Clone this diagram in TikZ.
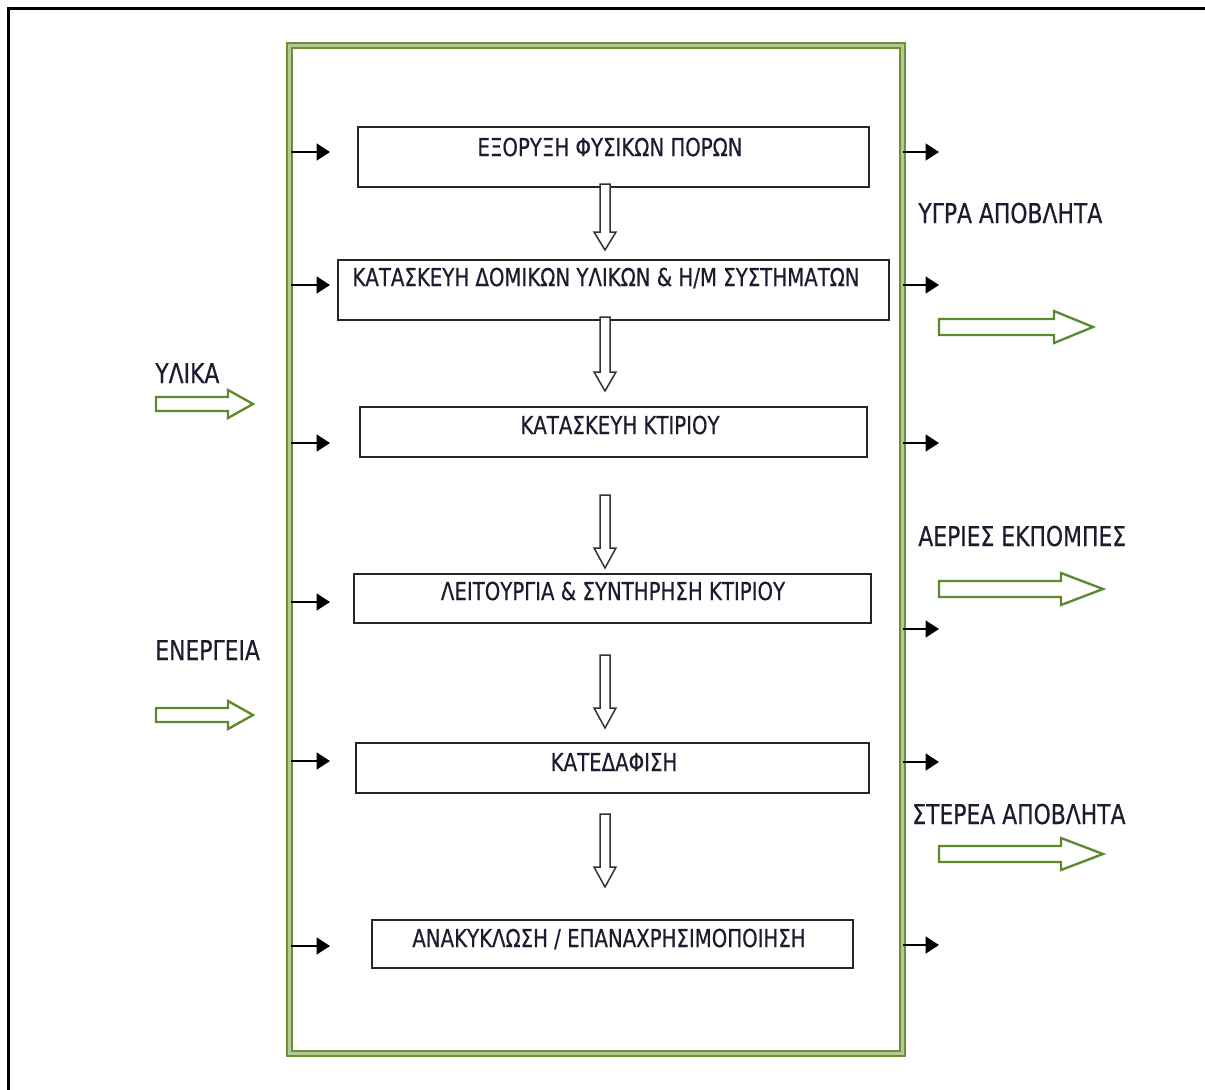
\documentclass[tikz,border=0pt]{standalone}
\usepackage{fontspec}
\setmainfont{DejaVu Sans}[FakeStretch=0.8,FakeBold=0.5]
\usetikzlibrary{arrows.meta,fit}
\definecolor{gdark}{HTML}{6F8E3D}
\definecolor{glight}{HTML}{B3C98F}
\definecolor{garrow}{HTML}{5B8A2C}
\definecolor{txt}{HTML}{1C1C30}
\newcommand\hdown[4]{%
  \draw[hollowblk] (#1-5,#2) -- (#1-5,#3) -- (#1-11,#3) -- (#1,#4) -- (#1+11,#3) -- (#1+5,#3) -- (#1+5,#2) -- cycle;}
\newcommand\hright[6]{% x0, xhead, xtip, cy, half shaft, half head
  \draw[hollowgrn] (#1,#4-#5) -- (#2,#4-#5) -- (#2,#4-#6) -- (#3,#4) -- (#2,#4+#6) -- (#2,#4+#5) -- (#1,#4+#5) -- cycle;}
\tikzset{
  procbox/.style={draw=black!85, line width=1.2pt, inner sep=0pt},
  boxtxt/.style={font=\fontsize{14.8}{17}\selectfont, text=txt, anchor=base, inner sep=0pt},
  labeltxt/.style={font=\fontsize{16.4}{19}\selectfont, text=txt, anchor=base west, inner sep=0pt},
  hollowblk/.style={draw=black!80, line width=0.9pt, fill=white},
  hollowgrn/.style={draw=garrow, line width=1.4pt, fill=white},
  smallarr/.style={line width=1.4pt, -{Triangle[length=8pt,width=10pt]}},
  greenframe/.style={draw=gdark, double=glight, double distance=2.2pt, line width=1.2pt, inner sep=0pt}
}
\begin{document}
\begin{tikzpicture}[x=0.6pt,y=-0.6pt]
\useasboundingbox (0,0) rectangle (1205,1089);
\fill[white] (0,0) rectangle (1205,1089);
% outer frame (cropped)
\draw[line width=1.8pt] (8,1100) -- (8,8) -- (1215,8);
% green frame
\node[greenframe, fit={(289.5,45.5) (902.5,1053.5)}] (frame) {};
% process boxes
\node[procbox, fit={(358,127) (869,187)}] (b1) {};
\node[procbox, fit={(338,260) (889,320)}] (b2) {};
\node[procbox, fit={(360,407) (867,457)}] (b3) {};
\node[procbox, fit={(354,574) (871,623)}] (b4) {};
\node[procbox, fit={(356,743) (869,793)}] (b5) {};
\node[procbox, fit={(372,920) (853,968)}] (b6) {};
\node[boxtxt] (t1) at (610,156) {ΕΞΟΡΥΞΗ ΦΥΣΙΚΩΝ ΠΟΡΩΝ};
\node[boxtxt] (t2) at (606,286) {ΚΑΤΑΣΚΕΥΗ ΔΟΜΙΚΩΝ ΥΛΙΚΩΝ \& Η/Μ ΣΥΣΤΗΜΑΤΩΝ};
\node[boxtxt] (t3) at (620,434) {ΚΑΤΑΣΚΕΥΗ ΚΤΙΡΙΟΥ};
\node[boxtxt] (t4) at (613,600) {ΛΕΙΤΟΥΡΓΙΑ \& ΣΥΝΤΗΡΗΣΗ ΚΤΙΡΙΟΥ};
\node[boxtxt] (t5) at (614,771) {ΚΑΤΕΔΑΦΙΣΗ};
\node[boxtxt] (t6) at (609,947) {ΑΝΑΚΥΚΛΩΣΗ / ΕΠΑΝΑΧΡΗΣΙΜΟΠΟΙΗΣΗ};
% hollow down arrows between stages
\hdown{605}{184}{232}{250}
\hdown{605}{317}{372}{391}
\hdown{605}{495}{548}{568}
\hdown{605}{655}{708}{728}
\hdown{605}{814}{867}{887}
% small black input arrows
\foreach \i/\yy in {1/152,2/285,3/443,4/602,5/761,6/946}{
  \coordinate (li\i) at (291,\yy);
  \coordinate (lo\i) at (330,\yy);
  \draw[smallarr] (li\i) -- (lo\i);
}
% small black output arrows
\foreach \i/\yy in {1/152,2/285,3/443,4/629,5/762,6/945}{
  \coordinate (ri\i) at (903,\yy);
  \coordinate (ro\i) at (939,\yy);
  \draw[smallarr] (ri\i) -- (ro\i);
}
% inputs
\node[labeltxt] (lmat) at (155,383) {ΥΛΙΚΑ};
\hright{156}{228}{253}{404}{7}{14}
\node[labeltxt] (lenr) at (155,660) {ΕΝΕΡΓΕΙΑ};
\hright{156}{228}{253}{715}{7}{14}
% outputs
\node[labeltxt] (lliq) at (918,223) {ΥΓΡΑ ΑΠΟΒΛΗΤΑ};
\hright{939}{1054}{1093}{327}{8}{16}
\node[labeltxt] (lgas) at (918,546) {ΑΕΡΙΕΣ ΕΚΠΟΜΠΕΣ};
\hright{939}{1061}{1103}{589}{8}{16}
\node[labeltxt] (lsol) at (912,824) {ΣΤΕΡΕΑ ΑΠΟΒΛΗΤΑ};
\hright{939}{1061}{1103}{854}{8}{16}
\end{tikzpicture}
\end{document}
